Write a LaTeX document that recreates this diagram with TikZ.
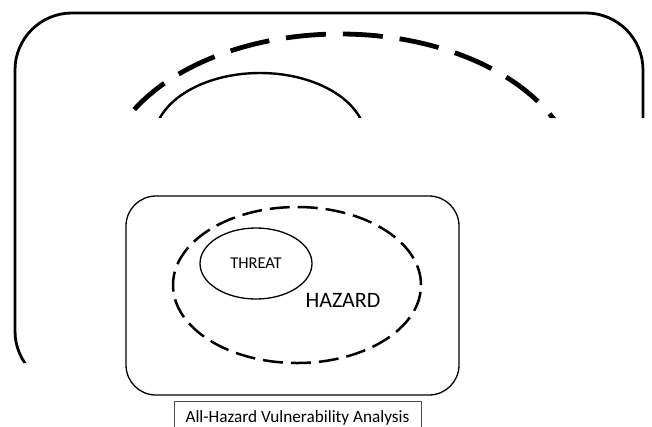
\documentclass[tikz,border=0pt]{standalone}
\usepackage{fontspec}
\setmainfont{Carlito}
\usetikzlibrary{shapes.geometric}
\begin{document}
\begin{tikzpicture}[x=1pt,y=-1pt,
  framebox/.style={draw, rounded corners=#1, inner sep=0pt},
  hazell/.style={draw, ellipse, inner sep=0pt},
  lbl/.style={inner sep=0pt}]
\useasboundingbox (0,0) rectangle (652,426);
% enlarged, cropped copy at the top
\begin{scope}
  \clip (0,0) rectangle (652,118) (0,0) rectangle (28,363);
  \node[framebox=57pt, line width=2.8pt, minimum width=628pt, minimum height=375pt] (bigframe) at (329,200.5) {};
  \node[hazell, line width=4.8pt, dash pattern=on 40pt off 17pt, dash phase=20pt, minimum width=474pt, minimum height=300pt] (bighazard) at (340,184) {};
  \node[hazell, line width=2.4pt, minimum width=212pt, minimum height=134pt] (bigthreat) at (260,140) {};
\end{scope}
% main diagram
\node[framebox=30pt, line width=1.3pt, minimum width=333pt, minimum height=199pt] (frame) at (292.5,295.5) {};
\node[hazell, line width=2.5pt, dash pattern=on 20pt off 8pt, minimum width=248pt, minimum height=156pt] (hazard) at (297,285) {};
\node[hazell, line width=1.3pt, minimum width=112pt, minimum height=71pt, font=\fontsize{16.5}{18}\selectfont] (threat) at (256,263.5) {THREAT};
\node[lbl, font=\fontsize{22}{24}\selectfont] (hazardlbl) at (343,300) {HAZARD};
\node[draw=black!70, line width=0.8pt, inner sep=0pt, text depth=0pt, minimum width=247pt, minimum height=30pt, font=\fontsize{17.2}{19}\selectfont] (caption) at (297.5,416.5) {All-Hazard Vulnerability Analysis};
\end{tikzpicture}
\end{document}
